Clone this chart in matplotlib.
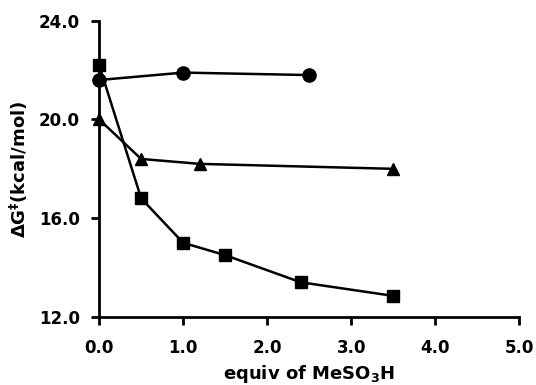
import matplotlib
matplotlib.use("Agg")
import matplotlib.pyplot as plt
from matplotlib.ticker import FormatStrFormatter

# data
circle_x = [0.0, 1.0, 2.5]
circle_y = [21.6, 21.9, 21.8]
tri_x = [0.0, 0.5, 1.2, 3.5]
tri_y = [20.0, 18.4, 18.2, 18.0]
sq_x = [0.0, 0.5, 1.0, 1.5, 2.4, 3.5]
sq_y = [22.2, 16.8, 15.0, 14.5, 13.4, 12.85]

x_ticks = [0.0, 1.0, 2.0, 3.0, 4.0, 5.0]
y_ticks = [12.0, 16.0, 20.0, 24.0]

plt.rcParams['font.family'] = 'DejaVu Sans'
plt.rcParams['font.weight'] = 'bold'

fig = plt.figure(figsize=(5.36, 3.85), dpi=100)
ax = fig.add_axes([0.185, 0.177, 0.784, 0.769])

ax.plot(circle_x, circle_y, 'k-', marker='o', markersize=9.5, lw=1.8, clip_on=False)
ax.plot(tri_x, tri_y, 'k-', marker='^', markersize=9, lw=1.8, clip_on=False)
ax.plot(sq_x, sq_y, 'k-', marker='s', markersize=8, lw=1.8, clip_on=False)

ax.set_xlim(0, 5)
ax.set_ylim(12, 24)
ax.set_xticks(x_ticks)
ax.set_yticks(y_ticks)
ax.xaxis.set_major_formatter(FormatStrFormatter('%.1f'))
ax.yaxis.set_major_formatter(FormatStrFormatter('%.1f'))

for s in ['top', 'right']:
    ax.spines[s].set_visible(False)
for s in ['left', 'bottom']:
    ax.spines[s].set_linewidth(2)
ax.tick_params(direction='out', length=6, width=2, labelsize=12)
ax.tick_params(axis='x', pad=10)
ax.tick_params(axis='y', pad=8)
for lab in ax.get_xticklabels() + ax.get_yticklabels():
    lab.set_fontweight('bold')

ax.set_xlabel('equiv of MeSO$_\\mathbf{3}$H', fontsize=13, fontweight='bold', labelpad=4)
ax.set_ylabel('ΔG$^\\mathbf{‡}$(kcal/mol)', fontsize=13, fontweight='bold', labelpad=6)

fig.savefig('out.png', dpi=100)
